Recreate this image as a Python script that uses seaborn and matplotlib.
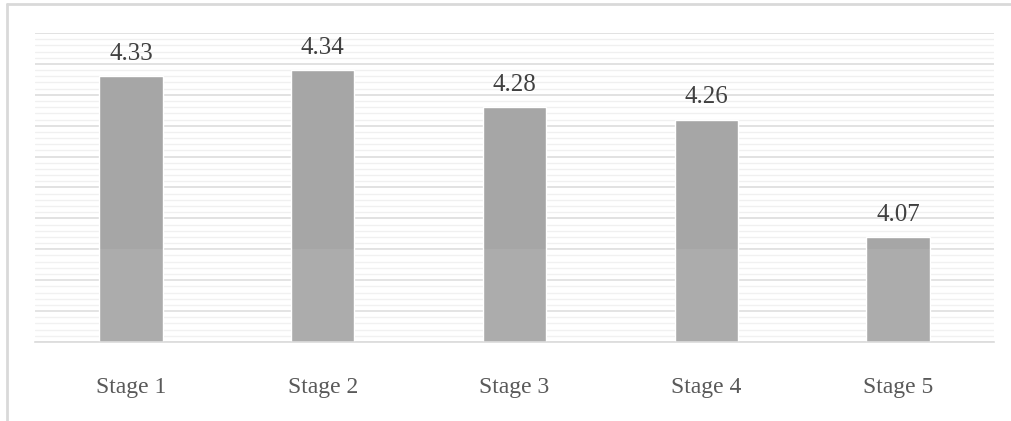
import matplotlib
matplotlib.use("Agg")
import matplotlib.pyplot as plt
from matplotlib.ticker import MultipleLocator
from matplotlib.lines import Line2D
import seaborn as sns
import pandas as pd

stages = ["Stage 1", "Stage 2", "Stage 3", "Stage 4", "Stage 5"]
scores = [4.33, 4.34, 4.28, 4.26, 4.07]

sns.set_theme(style="white")
plt.rcParams["font.family"] = ["Liberation Serif", "DejaVu Serif"]

df = pd.DataFrame({"stage": stages, "score": scores})

fig = plt.figure(figsize=(10.11, 4.21), dpi=100)
ax = fig.add_axes([35 / 1011, (421 - 342) / 421, (994 - 35) / 1011, (342 - 33) / 421])

sns.barplot(data=df, x="stage", y="score", color="#a6a6a6", saturation=1,
            width=0.33, ax=ax, zorder=2)

ax.set_ylim(3.9, 4.4)
ax.set_xlim(-0.5, 4.5)
ax.yaxis.set_major_locator(MultipleLocator(0.05))
ax.yaxis.set_minor_locator(MultipleLocator(0.01))
ax.grid(which="major", axis="y", color="#dadada", linewidth=1.1, zorder=0)
ax.grid(which="minor", axis="y", color="#f0f0f0", linewidth=1.0, zorder=0)
ax.set_axisbelow(True)
ax.tick_params(axis="y", which="both", left=False, labelleft=False)
ax.tick_params(axis="x", bottom=False, pad=19, labelsize=17, labelcolor="#595959")
for lbl in ax.get_xticklabels():
    lbl.set_family(["Liberation Serif", "DejaVu Serif"])
ax.set_xlabel("")
ax.set_ylabel("")
for side in ["top", "left", "right"]:
    ax.spines[side].set_visible(False)
ax.spines["bottom"].set_color("#dadada")
ax.spines["bottom"].set_linewidth(1.2)

# faint light band over the lower part of the plot
ax.axhspan(3.9, 4.05, color="white", alpha=0.07, zorder=3, linewidth=0)

for i, v in enumerate(scores):
    ax.annotate(f"{v:.2f}", (i, v), xytext=(0, 8), textcoords="offset points",
                ha="center", va="bottom", fontsize=18, color="#404040",
                family=["Liberation Serif", "DejaVu Serif"])

# chart frame
fig.add_artist(Line2D([7 / 1011, 1.0], [1 - 4 / 421, 1 - 4 / 421],
                      transform=fig.transFigure, color="#d9d9d9", linewidth=2))
fig.add_artist(Line2D([7 / 1011, 7 / 1011], [0.0, 1 - 4 / 421],
                      transform=fig.transFigure, color="#d9d9d9", linewidth=2))

fig.savefig("out.png", dpi=100)
